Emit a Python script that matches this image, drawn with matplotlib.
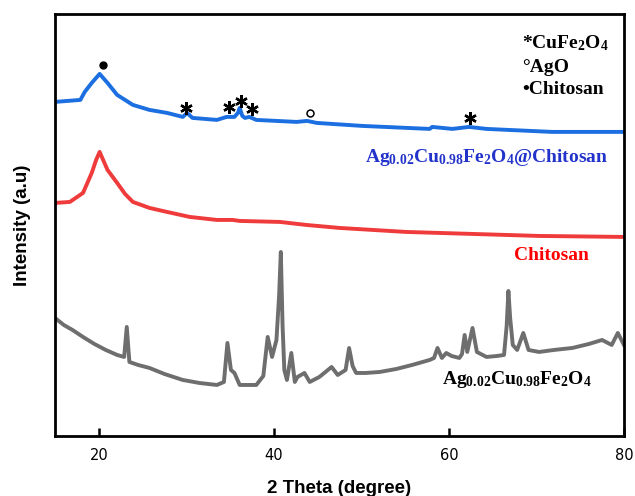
import matplotlib.pyplot as plt

plt.rcParams['mathtext.fontset'] = 'custom'
plt.rcParams['mathtext.rm'] = 'Liberation Serif:bold'
plt.rcParams['mathtext.bf'] = 'Liberation Serif:bold'
plt.rcParams['mathtext.it'] = 'Liberation Serif:bold:italic'

# XRD patterns (stacked, arbitrary intensity units)
gray_theta = [15.0, 16.0, 17.0, 18.2, 19.5, 20.8, 22.1, 22.9, 23.2, 23.5, 24.5, 25.8,
              27.5, 29.6, 31.5, 33.5, 34.3, 34.7, 35.1, 35.5, 36.1, 37.0, 38.0, 38.8,
              39.3, 39.8, 40.3, 40.6, 40.8, 41.0, 41.2, 41.5, 42.0, 42.4, 42.7, 43.5,
              44.1, 45.2, 46.6, 47.3, 48.2, 48.6, 49.0, 49.4, 50.5, 52.1, 54.0, 55.8,
              57.8, 58.3, 58.7, 59.2, 59.7, 60.3, 61.2, 61.5, 61.8, 62.1, 62.7, 63.2,
              64.3, 65.5, 66.3, 66.6, 66.8, 67.0, 67.3, 67.8, 68.5, 69.1, 70.3, 72.0,
              74.1, 76.0, 77.5, 78.6, 79.3, 80.0]
gray_int = [118, 111, 106, 99, 92, 86, 81, 79, 109, 74, 71, 68,
            62, 56, 53, 51, 54, 93, 66, 63, 51, 51, 51, 60,
            99, 79, 96, 140, 184, 110, 66, 56, 83, 54, 59, 63,
            54, 59, 69, 61, 66, 88, 70, 63, 63, 64, 67, 71,
            76, 78, 88, 78, 83, 80, 78, 82, 101, 84, 108, 84,
            79, 80, 81, 110, 145, 118, 91, 86, 103, 86, 84, 86,
            88, 92, 96, 91, 103, 91]

red_theta = [15.0, 16.7, 18.2, 19.2, 19.7, 20.1, 20.5, 21.0, 22.1, 23.0, 23.9, 25.8,
             27.8, 30.4, 33.5, 35.3, 36.1, 40.7, 43.7, 47.5, 55.1, 62.7, 70.3, 80.0]
red_int = [233, 234, 243, 263, 276, 284, 276, 266, 253, 242, 234, 228,
           224, 219, 216, 216, 215, 214, 211, 208, 204, 202, 200, 199]

blue_theta = [15.0, 17.9, 18.4, 19.2, 19.7, 20.1, 20.5, 21.0, 22.1, 23.9, 25.8, 27.8,
              29.6, 30.1, 30.7, 33.5, 34.6, 35.5, 35.9, 36.1, 36.4, 36.7, 37.2, 38.0,
              42.6, 43.8, 44.9, 50.1, 57.8, 58.1, 60.4, 62.3, 64.3, 71.8, 80.0]
blue_int = [334, 336, 344, 353, 358, 362, 358, 353, 341, 331, 326, 323,
            319, 323, 318, 316, 319, 319, 323, 328, 320, 318, 319, 316,
            314, 315, 313, 310, 307, 309, 307, 309, 307, 304, 304]

# peak markers above the composite pattern
star_theta = [30.0, 34.9, 36.3, 37.5, 62.4]
star_int = [328, 329, 335, 327, 318]
ago_theta = [44.1]
ago_int = [323]
chit_theta = [20.5]
chit_int = [371]

fig = plt.figure(figsize=(6.35, 4.96), dpi=100)
ax = fig.add_axes([0.0866, 0.121, 0.896, 0.851])

ax.plot(gray_theta, gray_int, color='#6e6e6e', lw=2.8)
ax.plot(red_theta, red_int, color='#ef3b3b', lw=2.8)
ax.plot(blue_theta, blue_int, color='#1c6fe0', lw=2.8)

ax.plot(star_theta, star_int, ls='none', marker=(6, 2, 0), ms=9, mew=1.7, color='black')
ax.plot(ago_theta, ago_int, ls='none', marker='o', ms=5, mfc='white', mec='black', mew=1.1)
ax.plot(chit_theta, chit_int, ls='none', marker='o', ms=5, color='black')

serif = dict(family='Liberation Serif', weight='bold')
ax.text(0.8207, 0.931, '*CuFe$_2$O$_4$', transform=ax.transAxes, ha='left', va='center',
        fontsize=14, **serif)
ax.text(0.8207, 0.874, '\u00b0AgO', transform=ax.transAxes, ha='left', va='center',
        fontsize=14, **serif)
ax.text(0.8207, 0.820, '\u2022Chitosan', transform=ax.transAxes, ha='left', va='center',
        fontsize=14, **serif)

ax.text(0.758, 0.659, 'Ag$_{0.02}$Cu$_{0.98}$Fe$_2$O$_4$@Chitosan', transform=ax.transAxes,
        ha='center', va='center', fontsize=14, color='#2233cc', **serif)
ax.text(0.873, 0.427, 'Chitosan', transform=ax.transAxes, ha='center', va='center',
        fontsize=14, color='#ff0000', **serif)
ax.text(0.812, 0.133, 'Ag$_{0.02}$Cu$_{0.98}$Fe$_2$O$_4$', transform=ax.transAxes,
        ha='center', va='center', fontsize=14, color='black', **serif)

ax.set_xlim(15, 80)
ax.set_ylim(0, 422)
ax.set_xticks([20, 40, 60, 80])
ax.set_yticks([])
ax.tick_params(axis='x', direction='in', length=6, width=1.8, labelsize=10.5, pad=9)
for sp in ax.spines.values():
    sp.set_linewidth(2)

ax.set_xlabel('2 Theta (degree)', fontsize=13.5, fontweight='bold', family='Liberation Sans',
              labelpad=12)
ax.set_ylabel('Intensity (a.u)', fontsize=13.5, fontweight='bold', family='Liberation Sans',
              labelpad=17)

fig.savefig('out.png', dpi=100)
